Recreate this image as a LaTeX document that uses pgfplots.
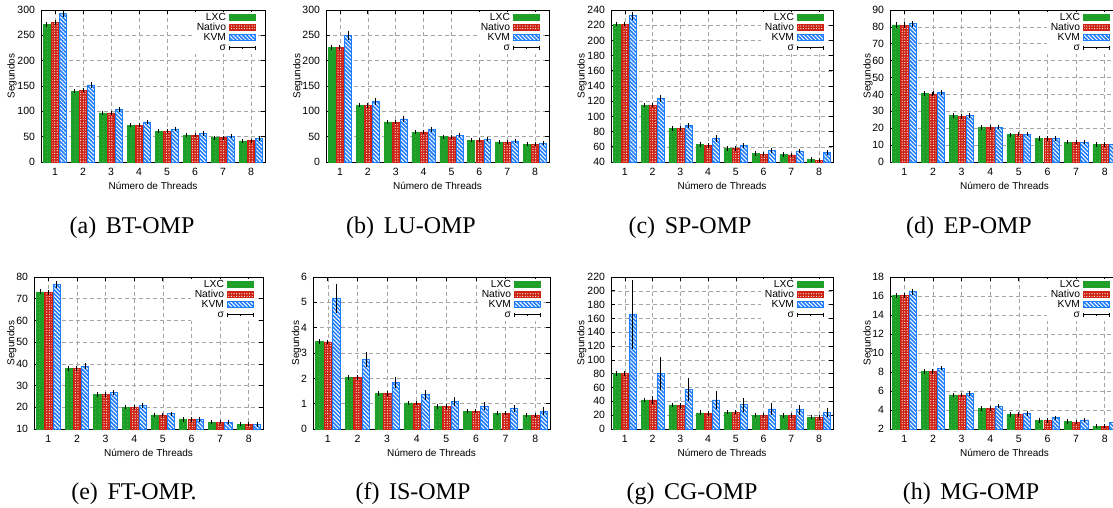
\documentclass[border=0pt]{standalone}
\usepackage{fontspec}
\setmainfont{Liberation Serif}
\newfontfamily\chartfont{Liberation Sans}
\usepackage{pgfplots}
\pgfplotsset{compat=1.18}
\usepackage{pgfplotstable}
\usetikzlibrary{patterns.meta}

\definecolor{lxc}{RGB}{30,160,40}
\definecolor{nat}{RGB}{205,35,20}
\definecolor{kvm}{RGB}{30,125,255}
\definecolor{gridc}{RGB}{165,165,165}

\tikzset{
  lxcbar/.style={draw=lxc, fill=lxc, line width=0.5pt,
    postaction={pattern={Dots[distance=4pt,radius=0.45pt]}, pattern color=lxc!70!white}},
  natbar/.style={draw=nat, fill=nat, line width=0.5pt,
    postaction={pattern={Dots[distance=2.6pt,radius=0.6pt]}, pattern color=white}},
  kvmbar/.style={draw=kvm, fill=kvm, line width=0.8pt,
    postaction={pattern={Lines[angle=-45,distance=2.8pt,line width=1pt]}, pattern color=white}},
}

\pgfplotsset{
  omp/.style={
    scale only axis, height=152pt, anchor=south west,
    xmin=0.5, xmax=8.5, xtick={1,...,8},
    grid=major, grid style={gridc, line width=0.6pt, dash pattern=on 4pt off 3pt},
    tick pos=both, major tick length=4pt, tick style={black, line width=0.7pt},
    axis line style={black, line width=0.9pt},
    font=\chartfont\fontsize{10}{12}\selectfont,
    tick label style={font=\chartfont\fontsize{10.5}{12}\selectfont},
    xticklabel style={yshift=-2.3pt}, yticklabel style={xshift=-2.5pt},
    /pgf/number format/assume math mode=true,
    xlabel={Número de Threads}, ylabel={Segundos},
    xlabel style={at={(axis description cs:0.5,-0.158)}, anchor=center},
    legend plot pos=right, legend cell align=right,
    legend style={at={(rel axis cs:1,1)}, anchor=north east, xshift=-8pt, yshift=-1.5pt,
      draw=none, fill=white, inner sep=1pt, row sep=0pt,
      font=\chartfont\fontsize{10.3}{12}\selectfont,
      nodes={inner xsep=3pt, inner ysep=0.5pt, text height=7.4pt, text depth=1.6pt}},
  },
  ompbar/.style={ybar, bar width=0.25, bar shift=0pt, forget plot,
    error bars/y dir=both, error bars/y explicit,
    error bars/error bar style={black, line width=0.9pt},
    error bars/error mark options={black, mark size=1.8pt, line width=0.9pt}},
}

\newcommand{\bars}[1]{%
  \addplot[lxcbar, ompbar] table[x expr=\thisrow{x}-0.29, y=lxc, y error=lxce]{#1};
  \addplot[natbar, ompbar] table[x expr=\thisrow{x}, y=nat, y error=nate]{#1};
  \addplot[kvmbar, ompbar] table[x expr=\thisrow{x}+0.29, y=kvm, y error=kvme]{#1};
  \addlegendimage{legend image code/.code={\draw[lxcbar] (0pt,-3pt) rectangle (26pt,3pt);}}
  \addlegendentry{LXC}
  \addlegendimage{legend image code/.code={\draw[natbar] (0pt,-3pt) rectangle (26pt,3pt);}}
  \addlegendentry{Nativo}
  \addlegendimage{legend image code/.code={\draw[kvmbar] (0pt,-3pt) rectangle (26pt,3pt);}}
  \addlegendentry{KVM}
  \addlegendimage{legend image code/.code={\draw[black,line width=0.8pt]
      (0pt,0pt)--(26pt,0pt) (0pt,-1.8pt)--(0pt,1.8pt) (26pt,-1.8pt)--(26pt,1.8pt)
      (13pt,-1.2pt)--(13pt,1.2pt);}}
  \addlegendentry{σ}
}

% BT-OMP
\pgfplotstableread{
x lxc lxce nat nate kvm kvme
1 272 1.2 275 1.2 293 4
2 140 1 142 1 152 1.5
3 97 0.8 97 0.8 103 1.2
4 73 0.8 73 0.8 79 1
5 61 0.6 61 0.6 65 0.8
6 53 0.6 53 0.6 56 0.8
7 48 0.5 48 0.5 51 0.8
8 41.5 0.5 42 0.5 46 0.8
}\tabBT
% LU-OMP
\pgfplotstableread{
x lxc lxce nat nate kvm kvme
1 226.5 1 226.5 1 250 6
2 112.5 1 112 1 120 3
3 79 0.8 78.5 0.8 85 1.5
4 59.5 0.8 59.5 0.8 63.5 1.2
5 50 0.6 49.5 0.6 53 0.8
6 43 0.5 43 0.5 45 0.8
7 39.5 0.5 39 0.5 41.5 0.8
8 35.5 0.5 35.5 0.5 37.5 0.8
}\tabLU
% SP-OMP
\pgfplotstableread{
x lxc lxce nat nate kvm kvme
1 221.5 0.8 221.5 0.8 232.5 3
2 115 0.8 115 0.8 123.5 2.5
3 84.5 0.8 84 0.8 88 1
4 63 1 62 0.8 71 1.8
5 58 0.8 58 0.5 61.5 1
6 51.5 1 50.5 0.8 55 1.2
7 49.7 0.7 49.5 0.5 54.5 0.8
8 43.5 0.7 42.5 0.7 52.5 1
}\tabSP
% EP-OMP
\pgfplotstableread{
x lxc lxce nat nate kvm kvme
1 81.2 0.6 81 0.6 81.8 0.5
2 40.5 0.3 40.4 0.3 41.1 0.3
3 27.4 0.3 27.1 0.3 27.4 0.3
4 20.4 0.2 20.4 0.2 20.6 0.2
5 16.2 0.2 16.4 0.2 16.5 0.2
6 14.1 0.3 14 0.3 14 0.3
7 11.7 0.2 11.7 0.2 11.8 0.2
8 10.3 0.2 10.3 0.2 10.3 0.2
}\tabEP
% FT-OMP
\pgfplotstableread{
x lxc lxce nat nate kvm kvme
1 73.2 0.3 72.9 0.3 76.6 0.8
2 38 0.3 38 0.3 39 0.6
3 26 0.2 26 0.2 26.8 0.3
4 20.1 0.2 20.1 0.2 20.7 0.3
5 16.5 0.2 16.4 0.2 17 0.2
6 14.4 0.2 14.4 0.2 14.4 0.2
7 13.2 0.2 13.2 0.2 13.2 0.2
8 12.2 0.2 12.2 0.2 12 0.2
}\tabFT
% IS-OMP
\pgfplotstableread{
x lxc lxce nat nate kvm kvme
1 3.45 0.02 3.44 0.02 5.15 0.5
2 2.04 0.02 2.04 0.02 2.75 0.22
3 1.40 0.02 1.40 0.02 1.84 0.15
4 1.03 0.02 1.02 0.02 1.35 0.12
5 0.88 0.03 0.89 0.03 1.09 0.1
6 0.71 0.02 0.71 0.02 0.91 0.09
7 0.63 0.01 0.63 0.01 0.80 0.07
8 0.55 0.01 0.55 0.01 0.71 0.07
}\tabIS
% CG-OMP
\pgfplotstableread{
x lxc lxce nat nate kvm kvme
1 80 0.8 80 0.8 166 47
2 42 0.8 42 3.5 80 21
3 34.8 0.8 33.7 2 57.8 14
4 23.5 0.8 23 1 42 10.5
5 24.5 0.5 24.5 0.5 35 7.5
6 20 0.5 20 0.5 29 6
7 19.5 0.5 19.5 0.8 28 4.5
8 17 0.5 16.5 0.8 24.5 4
}\tabCG
% MG-OMP
\pgfplotstableread{
x lxc lxce nat nate kvm kvme
1 16.04 0.05 16.04 0.05 16.45 0.15
2 8.08 0.05 8.08 0.05 8.4 0.05
3 5.6 0.05 5.6 0.05 5.75 0.05
4 4.15 0.05 4.17 0.05 4.4 0.05
5 3.52 0.05 3.52 0.05 3.65 0.05
6 2.92 0.08 2.9 0.08 3.18 0.05
7 2.78 0.05 2.72 0.05 2.95 0.05
8 2.3 0.03 2.3 0.03 2.72 0.05
}\tabMG

\begin{document}
\begin{tikzpicture}
\useasboundingbox (0,0) rectangle (1113pt,-507pt);
\clip (0,0) rectangle (1113pt,-507pt);

% top row
\begin{axis}[omp, at={(41pt,-162pt)}, width=224pt, ymin=0, ymax=300, ytick={0,50,...,300},
  ylabel style={at={(axis description cs:-0.129,0.565)}, anchor=center}]
\bars{\tabBT}
\end{axis}
\begin{axis}[omp, at={(326pt,-162pt)}, width=223pt, ymin=0, ymax=300, ytick={0,50,...,300},
  ylabel style={at={(axis description cs:-0.126,0.565)}, anchor=center}]
\bars{\tabLU}
\end{axis}
\begin{axis}[omp, at={(611pt,-162pt)}, width=222pt, ymin=40, ymax=240, ytick={40,60,...,240},
  ylabel style={at={(axis description cs:-0.131,0.565)}, anchor=center}]
\bars{\tabSP}
\end{axis}
\begin{axis}[omp, at={(890pt,-162pt)}, width=229pt, ymin=0, ymax=90, ytick={0,10,...,90},
  ylabel style={at={(axis description cs:-0.096,0.565)}, anchor=center}]
\bars{\tabEP}
\end{axis}

% bottom row
\begin{axis}[omp, at={(34pt,-429pt)}, width=229pt, ymin=10, ymax=80, ytick={10,20,...,80},
  ylabel style={at={(axis description cs:-0.097,0.565)}, anchor=center}]
\bars{\tabFT}
\end{axis}
\begin{axis}[omp, at={(313pt,-429pt)}, width=237pt, ymin=0, ymax=6, ytick={0,...,6},
  ylabel style={at={(axis description cs:-0.069,0.565)}, anchor=center}]
\bars{\tabIS}
\end{axis}
\begin{axis}[omp, at={(611pt,-429pt)}, width=222pt, ymin=0, ymax=220, ytick={0,20,...,220},
  ylabel style={at={(axis description cs:-0.132,0.565)}, anchor=center}]
\bars{\tabCG}
\end{axis}
\begin{axis}[omp, at={(890pt,-429pt)}, width=229pt, ymin=2, ymax=18, ytick={2,4,...,18},
  ylabel style={at={(axis description cs:-0.096,0.565)}, anchor=center}]
\bars{\tabMG}
\end{axis}

% captions
\begin{scope}[every node/.style={font=\rmfamily\fontsize{24}{28}\selectfont, anchor=base}]
\node at (132pt,-233pt) {(a)\hspace{0.4em}BT-OMP};
\node at (411pt,-233pt) {(b)\hspace{0.4em}LU-OMP};
\node at (690pt,-233pt) {(c)\hspace{0.4em}SP-OMP};
\node at (969pt,-233pt) {(d)\hspace{0.4em}EP-OMP};
\node at (134pt,-499pt) {(e)\hspace{0.4em}FT-OMP.};
\node at (413pt,-499pt) {(f)\hspace{0.4em}IS-OMP};
\node at (692pt,-499pt) {(g)\hspace{0.4em}CG-OMP};
\node at (971pt,-499pt) {(h)\hspace{0.4em}MG-OMP};
\end{scope}
\end{tikzpicture}
\end{document}
